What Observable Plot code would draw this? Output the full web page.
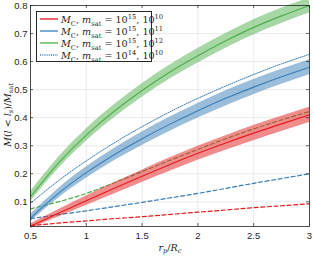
<!DOCTYPE html>
<html>
<head>
<meta charset="utf-8">
<script src="https://cdn.jsdelivr.net/npm/d3@7"></script>
<script src="https://cdn.jsdelivr.net/npm/@observablehq/plot@0.6"></script>
<style>
  html, body { margin: 0; padding: 0; background: white; }
  #wrap { position: relative; width: 314px; height: 258px; overflow: hidden; }
  .serif { font-family: "DejaVu Serif", "Liberation Serif", serif; color: #262626; }
  #legend { position: absolute; left: 36px; top: 11px; width: 116px; height: 51px; border: 0.8px solid #262626; background: white; box-sizing: border-box; }
  .row { position: absolute; left: 2px; height: 12px; display: flex; align-items: center; white-space: nowrap; font-size: 9.6px; }
  .row svg { margin-right: 2px; }
  sub, sup { font-size: 70%; line-height: 0; font-style: normal; }
  #ylab { position: absolute; left: 7px; top: 115px; transform: translate(-50%, -50%) rotate(-90deg); white-space: nowrap; font-size: 9.5px; }
  #xlab { position: absolute; left: 170px; top: 247px; transform: translate(-50%, -50%); white-space: nowrap; font-size: 9.5px; }
</style>
</head>
<body>
<div id="wrap"></div>
<script>
// ---- data ----
const xs = [0.5, 0.75, 1.0, 1.25, 1.5, 1.75, 2.0, 2.25, 2.5, 2.75, 3.0];

// solid lines with shaded bands: M_C, m_sat = 1e15, 1e10 / 1e11 / 1e12
const red15_10   = [0.013, 0.059, 0.104, 0.148, 0.191, 0.233, 0.273, 0.310, 0.345, 0.378, 0.410];
const blue15_11  = [0.042, 0.130, 0.204, 0.268, 0.325, 0.377, 0.425, 0.469, 0.509, 0.546, 0.580];
const green15_12 = [0.118, 0.238, 0.338, 0.423, 0.497, 0.563, 0.621, 0.674, 0.722, 0.763, 0.800];
const redHalf    = [0.008, 0.013, 0.017, 0.020, 0.022, 0.024, 0.025, 0.026, 0.027, 0.027, 0.027];
const blueHalf   = [0.013, 0.017, 0.020, 0.022, 0.024, 0.025, 0.026, 0.027, 0.027, 0.027, 0.027];
const greenHalf  = [0.018, 0.020, 0.022, 0.023, 0.024, 0.025, 0.026, 0.026, 0.027, 0.027, 0.027];

// dotted: M_C, m_sat = 1e14, 1e10
const blue14_10  = [0.095, 0.175, 0.246, 0.310, 0.368, 0.421, 0.469, 0.513, 0.554, 0.592, 0.626];

// dashed lines
const greenDash  = [0.075, 0.100, 0.130, 0.168, 0.208, 0.248, 0.287, 0.325, 0.360, 0.392, 0.422];
const blueDash   = [0.040, 0.054, 0.068, 0.083, 0.098, 0.114, 0.130, 0.148, 0.166, 0.183, 0.200];
const redDash    = [0.015, 0.024, 0.032, 0.040, 0.047, 0.055, 0.063, 0.071, 0.079, 0.086, 0.093];

const xTicks = [0.5, 1, 1.5, 2, 2.5, 3];
const yTicks = [0.1, 0.2, 0.3, 0.4, 0.5, 0.6, 0.7, 0.8];

const RED = "#e41a1c", BLUE = "#377eb8", GREEN = "#4daf4a";

function rows(vals, half) {
  return xs.map((x, i) => ({x, y: vals[i], lo: half ? vals[i] - half[i] : null, hi: half ? vals[i] + half[i] : null}));
}

const W = 314, H = 258, mL = 30, mR = 5, mT = 5, mB = 32;
const pw = W - mL - mR, ph = H - mT - mB;

const band = (v, h, c) => Plot.areaY(rows(v, h), {x: "x", y1: "lo", y2: "hi", fill: c, fillOpacity: 0.5, curve: "natural"});
const line = (v, c, opts = {}) => Plot.lineY(rows(v), {x: "x", y: "y", stroke: c, strokeWidth: 1.1, curve: "natural", ...opts});

const chart = Plot.plot({
  width: W, height: H,
  marginLeft: mL, marginRight: mR, marginTop: mT, marginBottom: mB,
  x: {domain: [0.5, 3]},
  y: {domain: [0.012, 0.8]},
  style: {fontFamily: "'Liberation Sans', Arial, sans-serif", fontSize: "9.5px", color: "#262626", background: "white", overflow: "visible"},
  marks: [
    Plot.ruleX(xTicks, {x: d => d, stroke: "#e6e6e6", strokeWidth: 0.8}),
    Plot.ruleY(yTicks, {y: d => d, stroke: "#e6e6e6", strokeWidth: 0.8}),
    line(greenDash, GREEN, {strokeDasharray: "4,2.6", strokeWidth: 1.2}),
    line(blueDash, BLUE, {strokeDasharray: "4,2.6", strokeWidth: 1.2}),
    line(redDash, RED, {strokeDasharray: "4,2.6", strokeWidth: 1.2}),
    band(red15_10, redHalf, RED),
    band(blue15_11, blueHalf, BLUE),
    band(green15_12, greenHalf, GREEN),
    line(red15_10, RED),
    line(blue15_11, BLUE),
    line(green15_12, GREEN),
    line(blue14_10, BLUE, {strokeDasharray: "1,1.2", strokeWidth: 1}),
    Plot.frame({stroke: "#262626", strokeWidth: 0.8}),
    Plot.tickX(xTicks, {x: d => d, stroke: "#262626", strokeWidth: 0.7, insetTop: ph - 3}),
    Plot.tickX(xTicks, {x: d => d, stroke: "#262626", strokeWidth: 0.7, insetBottom: ph - 3}),
    Plot.tickY(yTicks, {y: d => d, stroke: "#262626", strokeWidth: 0.7, insetRight: pw - 3}),
    Plot.tickY(yTicks, {y: d => d, stroke: "#262626", strokeWidth: 0.7, insetLeft: pw - 3}),
    Plot.axisX(xTicks, {tickSize: 0, tickPadding: 6, label: null, tickFormat: d => String(d)}),
    Plot.axisY(yTicks, {tickSize: 0, tickPadding: 3, label: null, tickFormat: d => d.toFixed(1)})
  ]
});

const wrap = document.getElementById("wrap");
wrap.appendChild(chart);

// legend (inside the plot, upper left)
const legendItems = [
  {c: RED,   dash: null,      exp: ["15", "10"]},
  {c: BLUE,  dash: null,      exp: ["15", "11"]},
  {c: GREEN, dash: null,      exp: ["15", "12"]},
  {c: BLUE,  dash: "1,1.2",   exp: ["14", "10"]}
];
const lg = document.createElement("div");
lg.id = "legend";
lg.className = "serif";
legendItems.forEach((it, i) => {
  const r = document.createElement("div");
  r.className = "row";
  r.style.top = (1 + i * 12.1) + "px";
  r.innerHTML = `<svg width="20" height="6"><line x1="1" x2="19" y1="3" y2="3" stroke="${it.c}" stroke-width="1.3" ${it.dash ? `stroke-dasharray="${it.dash}"` : ""}/></svg>` +
    `<span><i>M</i><sub>C</sub>, <i>m</i><sub>sat</sub> = 10<sup>${it.exp[0]}</sup>, 10<sup>${it.exp[1]}</sup></span>`;
  lg.appendChild(r);
});
wrap.appendChild(lg);

const yl = document.createElement("div");
yl.id = "ylab"; yl.className = "serif";
yl.innerHTML = `<i>M</i>(<i>l</i> &lt; <i>l</i><sub><i>s</i></sub>)/<i>M</i><sub>sat</sub>`;
wrap.appendChild(yl);

const xl = document.createElement("div");
xl.id = "xlab"; xl.className = "serif";
xl.innerHTML = `<i>r</i><sub><i>p</i></sub>/<i>R</i><sub><i>c</i></sub>`;
wrap.appendChild(xl);
</script>
</body>
</html>
